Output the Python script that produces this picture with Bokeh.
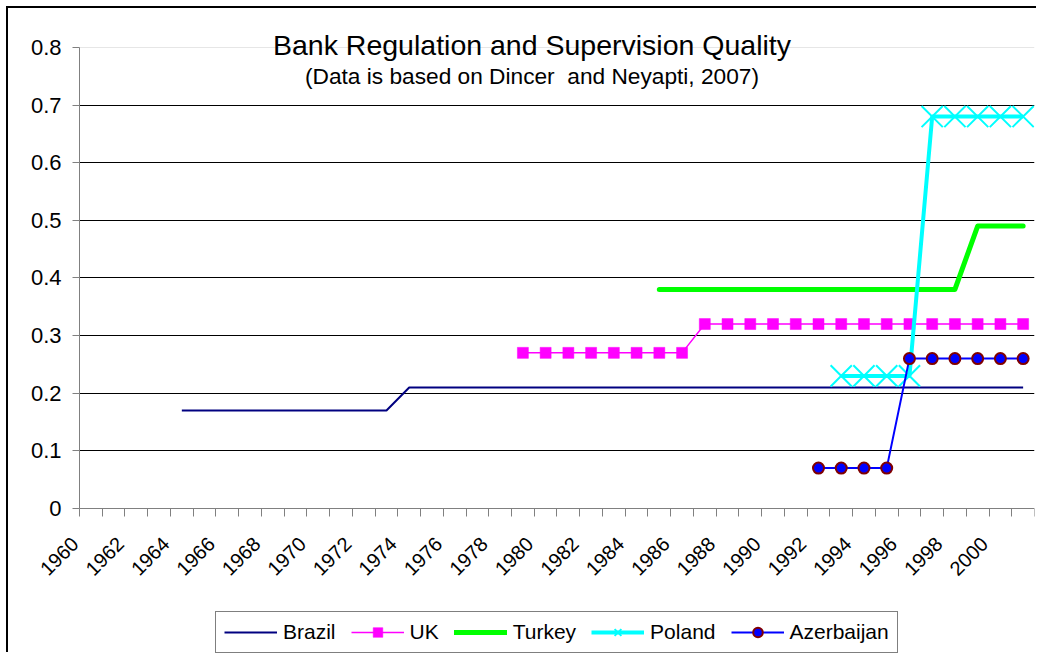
import math
from bokeh.plotting import figure
from bokeh.models import (Range1d, FixedTicker, NumeralTickFormatter, CustomJSTickFormatter,
                          Label, Legend, LegendItem, Grid)
from bokeh.embed import file_html
from bokeh.resources import INLINE

# ---------------- data ----------------
categories = list(range(1960, 2002))
label_years = [1960, 1962, 1964, 1966, 1968, 1970, 1972, 1974, 1976, 1978, 1980,
               1982, 1984, 1986, 1988, 1990, 1992, 1994, 1996, 1998, 2000]
y_ticks = [0, 0.1, 0.2, 0.3, 0.4, 0.5, 0.6, 0.7, 0.8]

brazil_years = list(range(1964, 2002))
brazil = [0.17, 0.17, 0.17, 0.17, 0.17, 0.17, 0.17, 0.17, 0.17, 0.17,
          0.21, 0.21, 0.21, 0.21, 0.21, 0.21, 0.21, 0.21, 0.21, 0.21,
          0.21, 0.21, 0.21, 0.21, 0.21, 0.21, 0.21, 0.21, 0.21, 0.21,
          0.21, 0.21, 0.21, 0.21, 0.21, 0.21, 0.21, 0.21]

uk_years = list(range(1979, 2002))
uk = [0.27, 0.27, 0.27, 0.27, 0.27, 0.27, 0.27, 0.27,
      0.32, 0.32, 0.32, 0.32, 0.32, 0.32, 0.32, 0.32, 0.32, 0.32,
      0.32, 0.32, 0.32, 0.32, 0.32]

turkey_years = list(range(1985, 2002))
turkey = [0.38, 0.38, 0.38, 0.38, 0.38, 0.38, 0.38, 0.38, 0.38, 0.38,
          0.38, 0.38, 0.38, 0.38, 0.49, 0.49, 0.49]

poland_years = list(range(1993, 2002))
poland = [0.23, 0.23, 0.23, 0.23, 0.68, 0.68, 0.68, 0.68, 0.68]

azerbaijan_years = list(range(1992, 2002))
azerbaijan = [0.07, 0.07, 0.07, 0.07, 0.26, 0.26, 0.26, 0.26, 0.26, 0.26]

FONT = "Liberation Sans"
LABEL_SHIFT = 0.7          # rotated labels sit left of the category centre
X_START = categories[0] - 0.5
X_END = categories[-1] + 0.5

# ---------------- figure ----------------
# the frame covers almost the whole canvas; both axes are pinned inside it
p = figure(width=1030, height=646, output_backend="svg", toolbar_location=None,
           x_range=Range1d(X_START - 2.6827, X_END),
           y_range=Range1d(-0.2534, 0.838),
           min_border_left=10, min_border_right=4, min_border_top=17, min_border_bottom=0)
p.outline_line_color = None
p.background_fill_color = "white"
p.border_fill_color = "white"
p.styles = {"margin-left": "6px", "margin-top": "6px",
            "border-left": "2px solid black", "border-top": "2px solid black"}

# x axis: tick marks between categories, labels every 2 years (rotated)
xa = p.xaxis[0]
xa.fixed_location = 0
xa.bounds = (X_START, X_END)
xa.ticker = FixedTicker(ticks=[y - LABEL_SHIFT for y in label_years],
                        minor_ticks=[c - 0.5 for c in categories] + [X_END])
xa.formatter = CustomJSTickFormatter(code="return Math.round(tick + %s).toString();" % LABEL_SHIFT)
xa.axis_line_color = "#808080"
xa.axis_line_width = 1
xa.major_tick_line_color = None
xa.major_tick_out = 0
xa.major_tick_in = 0
xa.minor_tick_line_color = "#808080"
xa.minor_tick_out = 8
xa.minor_tick_in = 0
xa.major_label_orientation = math.pi / 4
xa.major_label_standoff = 24
xa.major_label_text_font = FONT
xa.major_label_text_font_size = "20px"
xa.major_label_text_color = "black"

# y axis, drawn at the left edge of the category area
ya = p.yaxis[0]
ya.fixed_location = X_START
ya.ticker = FixedTicker(ticks=y_ticks)
ya.formatter = NumeralTickFormatter(format="0.[0]")
ya.bounds = (0, 0.8)
ya.axis_line_color = "#808080"
ya.major_tick_line_color = "#808080"
ya.major_tick_out = 7
ya.major_tick_in = 0
ya.minor_tick_line_color = None
ya.major_label_standoff = 11
ya.major_label_text_font = FONT
ya.major_label_text_font_size = "22px"
ya.major_label_text_color = "black"

# grid (only across the category area)
p.xgrid.visible = False
p.ygrid[0].ticker = FixedTicker(ticks=y_ticks[1:-1])
p.ygrid[0].grid_line_color = "black"
p.ygrid[0].grid_line_width = 1
p.ygrid[0].cross_bounds = (X_START, X_END)
p.add_layout(Grid(dimension=1, ticker=FixedTicker(ticks=y_ticks[-1:]),
                  grid_line_color="#e6e6e6", grid_line_width=1,
                  cross_bounds=(X_START, X_END)))

# ---------------- series ----------------
r_br = p.line(brazil_years, brazil, line_color="#000080", line_width=2)

r_uk_l = p.line(uk_years, uk, line_color="#FF00FF", line_width=1.5)
r_uk_m = p.scatter(uk_years, uk, marker="square", size=11,
                   fill_color="#FF00FF", line_color="#FF00FF", line_width=0.5)

r_tr = p.line(turkey_years, turkey, line_color="#00FF00", line_width=5,
              line_cap="round", line_join="round")

r_pl_l = p.line(poland_years, poland, line_color="#00FFFF", line_width=4)
r_pl_m = p.scatter(poland_years, poland, marker="x", size=30,
                   line_color="#00FFFF", line_width=2)

r_az_l = p.line(azerbaijan_years, azerbaijan, line_color="#0000FF", line_width=2)
r_az_m = p.scatter(azerbaijan_years, azerbaijan, marker="circle", size=11,
                   fill_color="#0000FF", line_color="#800000", line_width=2)

# ---------------- titles ----------------
p.add_layout(Label(x=1979.4, y=0.8035, text="Bank Regulation and Supervision Quality",
                   text_align="center", text_baseline="alphabetic",
                   text_font=FONT, text_font_size="28.5px", text_color="black"))
p.add_layout(Label(x=1979.4, y=0.750, text="(Data is based on Dincer\u00a0 and Neyapti, 2007)",
                   text_align="center", text_baseline="alphabetic",
                   text_font=FONT, text_font_size="22.7px", text_color="black"))

# ---------------- legend ----------------
legend = Legend(items=[
    LegendItem(label="Brazil", renderers=[r_br]),
    LegendItem(label="UK", renderers=[r_uk_l, r_uk_m]),
    LegendItem(label="Turkey", renderers=[r_tr]),
    LegendItem(label="Poland", renderers=[r_pl_l, r_pl_m]),
    LegendItem(label="Azerbaijan", renderers=[r_az_l, r_az_m]),
], orientation="horizontal", location=(197, 1))
legend.glyph_width = 53
legend.glyph_height = 24
legend.label_standoff = 6
legend.spacing = 15
legend.padding = 8
legend.margin = 0
legend.border_line_color = "black"
legend.border_line_width = 1
legend.background_fill_color = "white"
legend.background_fill_alpha = 1
legend.label_text_font = FONT
legend.label_text_font_size = "21px"
legend.label_text_color = "black"
p.add_layout(legend, "center")

open("out.html", "w").write(file_html(p, INLINE))
